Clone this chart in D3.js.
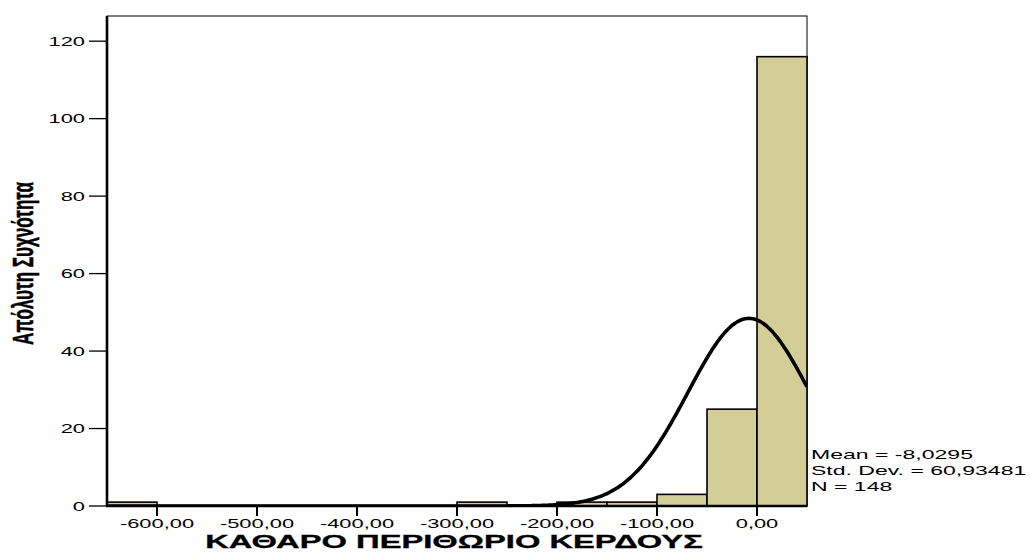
<!DOCTYPE html>
<html><head><meta charset="utf-8">
<script src="https://cdn.jsdelivr.net/npm/d3@7"></script>
<style>body{margin:0;background:#fff}svg{display:block}text{font-family:"Liberation Sans",Arial,sans-serif}</style>
</head><body><svg id="c" width="1030" height="552"></svg>
<script>
// data
const binStarts = [-650, -300, -200, -150, -100, -50, 0];
const binCounts = [1, 1, 1, 1, 3, 25, 116];
const binWidth = 50;
const xTicks = [-600, -500, -400, -300, -200, -100, 0];
const yTicks = [0, 20, 40, 60, 80, 100, 120];
const stats = {mean: -8.0295, sd: 60.93481, n: 148};
const statLines = ["Mean = -8,0295", "Std. Dev. = 60,93481", "N = 148"];
const xTitle = "ΚΑΘΑΡΟ ΠΕΡΙΘΩΡΙΟ ΚΕΡΔΟΥΣ";
const yTitle = "Απόλυτη Συχνότητα";

const SX = 1.75; // horizontal stretch of the text in the reference
const svg = d3.select("#c");
const L = 107, R = 807, T = 16, B = 506;
const x = d3.scaleLinear().domain([-650, 50]).range([L, R]);
const y = d3.scaleLinear().domain([0, 126.5]).range([B, T]);

// frame
svg.append("rect").attr("x", L).attr("y", T).attr("width", R - L).attr("height", B - T)
  .attr("fill", "#fff").attr("stroke", "#000").attr("stroke-width", 1);

// bars
svg.append("g").selectAll("rect").data(binStarts).join("rect")
  .attr("x", d => x(d)).attr("width", d => x(d + binWidth) - x(d))
  .attr("y", (d, i) => y(binCounts[i])).attr("height", (d, i) => y(0) - y(binCounts[i]))
  .attr("fill", "#d3ce97").attr("stroke", "#000").attr("stroke-width", 1.6);

// normal curve
svg.append("clipPath").attr("id", "pc").append("rect")
  .attr("x", L).attr("y", T).attr("width", R - L).attr("height", B - T);
const pts = d3.range(-650, 50.01, 2);
const dens = v => stats.n * binWidth / (stats.sd * Math.sqrt(2 * Math.PI)) *
  Math.exp(-0.5 * Math.pow((v - stats.mean) / stats.sd, 2));
svg.append("path").datum(pts).attr("clip-path", "url(#pc)")
  .attr("d", d3.line().x(v => x(v)).y(v => y(dens(v))).curve(d3.curveBasis))
  .attr("fill", "none").attr("stroke", "#000").attr("stroke-width", 3.6);

// axes
svg.append("line").attr("x1", L).attr("x2", L).attr("y1", T).attr("y2", B + 1)
  .attr("stroke", "#000").attr("stroke-width", 2.6);
svg.append("line").attr("x1", L - 1).attr("x2", R).attr("y1", B).attr("y2", B)
  .attr("stroke", "#000").attr("stroke-width", 2.6);

const yg = svg.append("g");
yTicks.forEach(t => {
  yg.append("line").attr("x1", 89).attr("x2", L).attr("y1", y(t)).attr("y2", y(t))
    .attr("stroke", "#000").attr("stroke-width", 1.3);
  yg.append("text").attr("transform", `translate(85,${y(t) + 4.5}) scale(${SX},1)`)
    .attr("text-anchor", "end").attr("font-size", 12.5).text(d3.format("d")(t));
});
const xg = svg.append("g");
const fmt = v => d3.format(".2f")(v).replace(".", ",").replace("−", "-");
xTicks.forEach(t => {
  xg.append("line").attr("x1", x(t)).attr("x2", x(t)).attr("y1", B).attr("y2", 516)
    .attr("stroke", "#000").attr("stroke-width", 2);
  xg.append("text").attr("transform", `translate(${x(t)},528) scale(${SX},1)`)
    .attr("text-anchor", "middle").attr("font-size", 12.5).text(fmt(t));
});

// titles (fitted to the reference extents)
const xt = svg.append("text").attr("text-anchor", "middle").attr("font-size", 17.5)
  .attr("font-weight", "bold").attr("stroke", "#000").attr("stroke-width", 0.3).text(xTitle);
const xw = xt.node().getComputedTextLength();
xt.attr("transform", `translate(454,547.5) scale(${498 / xw},1)`);

const yt = svg.append("text").attr("text-anchor", "middle").attr("font-size", 20)
  .attr("font-weight", "bold").attr("stroke", "#000").attr("stroke-width", 0.4)
  .attr("font-family", "'Liberation Sans Narrow','Liberation Sans',Arial,sans-serif").text(yTitle);
const yw = yt.node().getComputedTextLength();
const ys = 163 / yw;
yt.attr("transform", `translate(33,263.5) rotate(-90) scale(${ys},1.45)`);

// stats
svg.append("g").selectAll("text").data(statLines).join("text")
  .attr("transform", (d, i) => `translate(811,${459 + i * 16}) scale(1.92,1)`)
  .attr("font-size", 12).text(d => d);
</script></body></html>
